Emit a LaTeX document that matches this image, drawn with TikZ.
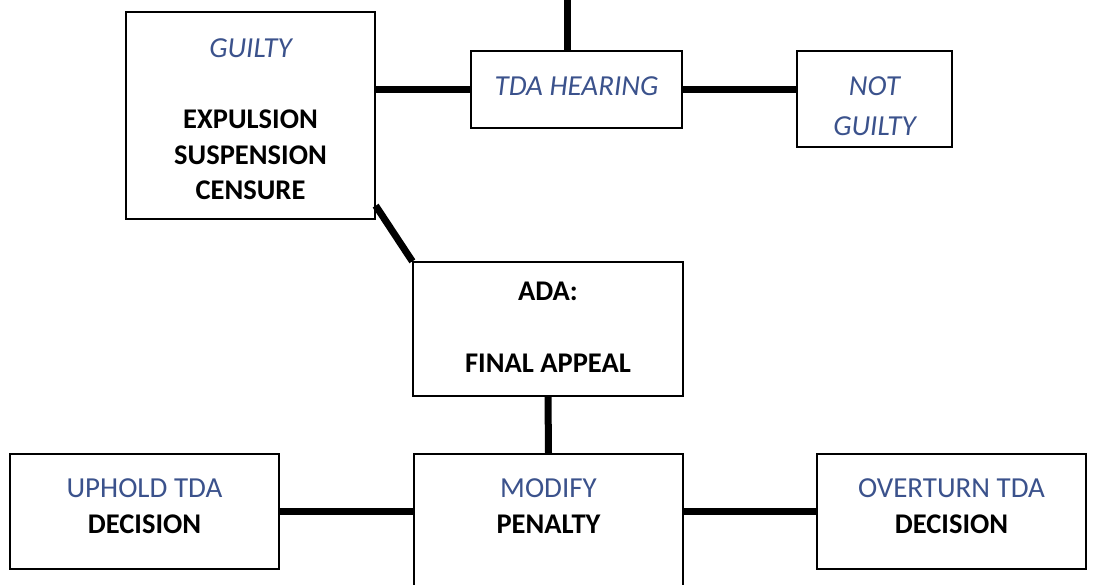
\documentclass[tikz,border=0pt]{standalone}
\usepackage{fontspec}
\setmainfont{Carlito}
\definecolor{tblue}{RGB}{59,82,140}
\tikzset{
  box/.style={draw=black, line width=1.3pt, fill=white, rectangle, inner sep=0pt},
  conn/.style={line width=7pt, black},
  bl/.style={anchor=base, inner sep=0pt, font=\fontsize{29}{34}\selectfont\itshape, text=tblue},
  blr/.style={anchor=base, inner sep=0pt, font=\fontsize{29}{34}\selectfont, text=tblue},
  bk/.style={anchor=base, inner sep=0pt, font=\fontsize{28.5}{34}\selectfont\bfseries, text=black},
}
\begin{document}
\begin{tikzpicture}[x=1pt,y=-1pt]
\useasboundingbox (0,0) rectangle (1095,584);
% boxes
\node[box, minimum width=249pt, minimum height=207pt] (guilty) at (250.5,115.5) {};
\node[box, minimum width=211pt, minimum height=77pt] (tda) at (576.5,89.5) {};
\node[box, minimum width=155pt, minimum height=96pt] (notg) at (874.5,99) {};
\node[box, minimum width=270pt, minimum height=134pt] (ada) at (548,329) {};
\node[box, minimum width=269pt, minimum height=115pt] (uphold) at (144.5,511.5) {};
\node[box, minimum width=269pt, minimum height=150pt] (modify) at (548.5,529) {};
\node[box, minimum width=269pt, minimum height=115pt] (over) at (951.5,511.5) {};
% connectors
\coordinate (top) at (567,-5);
\draw[conn] (top) -- (top |- tda.north);
\draw[conn] (tda.west) -- (tda.west -| guilty.east);
\draw[conn] (tda.east) -- (tda.east -| notg.west);
\draw[conn] ([yshift=14pt]guilty.south east) -- (ada.north west);
\draw[conn] (ada.south) -- (modify.north);
\draw[conn] (uphold.east) -- (uphold.east -| modify.west);
\draw[conn] (over.west -| modify.east) -- (over.west);
% texts
\node[bl] (t1) at (250.5,57) {GUILTY};
\node[bk] (t2) at (250.5,128) {EXPULSION};
\node[bk] (t3) at (250.5,164) {SUSPENSION};
\node[bk] (t4) at (250.5,199) {CENSURE};
\node[bl] (t5) at (576.5,95) {TDA HEARING};
\node[bl] (t6) at (874.5,95) {NOT};
\node[bl] (t7) at (874.5,135) {GUILTY};
\node[bk] (t8) at (548,300) {ADA:};
\node[bk] (t9) at (548,372) {FINAL APPEAL};
\node[blr] (t10) at (144.5,497) {UPHOLD TDA};
\node[bk] (t11) at (144.5,533) {DECISION};
\node[blr] (t12) at (548.5,497) {MODIFY};
\node[bk] (t13) at (548.5,533) {PENALTY};
\node[blr] (t14) at (951.5,497) {OVERTURN TDA};
\node[bk] (t15) at (951.5,533) {DECISION};
\end{tikzpicture}
\end{document}
